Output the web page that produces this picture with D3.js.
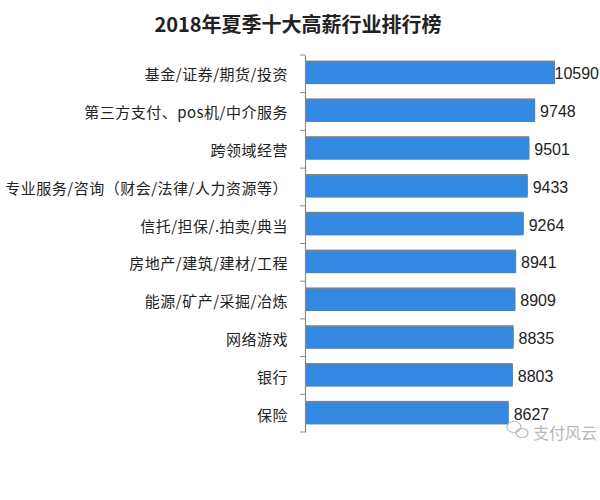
<!DOCTYPE html>
<html>
<head>
<meta charset="utf-8">
<script src="https://cdn.jsdelivr.net/npm/d3@7"></script>
<style>
  html, body { margin: 0; padding: 0; background: #fff; }
  svg { display: block; }
</style>
</head>
<body>
<svg id="chart" width="600" height="500"></svg>
<script>
const title = "2018年夏季十大高薪行业排行榜";
const categories = [
  "基金/证券/期货/投资",
  "第三方支付、pos机/中介服务",
  "跨领域经营",
  "专业服务/咨询（财会/法律/人力资源等）",
  "信托/担保/.拍卖/典当",
  "房地产/建筑/建材/工程",
  "能源/矿产/采掘/冶炼",
  "网络游戏",
  "银行",
  "保险"
];
const salaries = [10590, 9748, 9501, 9433, 9264, 8941, 8909, 8835, 8803, 8627];
const watermark = "支付风云";

const svg = d3.select("#chart");
const cjk = "'Noto Sans CJK SC', 'Noto Sans', sans-serif";

const x = d3.scaleLinear().domain([0, d3.max(salaries)]).range([305, 555]);
const y = d3.scaleBand().domain(categories).range([55, 432]).paddingInner(0.43).paddingOuter(0.2);

// title
svg.append("text")
  .attr("x", 298).attr("y", 32)
  .attr("text-anchor", "middle")
  .attr("font-family", "'Noto Sans CJK SC', sans-serif")
  .attr("font-weight", 700)
  .attr("font-size", 20)
  .attr("fill", "#222")
  .text(title);

// bars with a grey top edge
const g = svg.append("g");
g.selectAll("rect.shadow").data(categories).enter().append("rect")
  .attr("class", "shadow")
  .attr("x", x(0))
  .attr("y", d => y(d) - 2)
  .attr("width", (d, i) => x(salaries[i]) - x(0))
  .attr("height", y.bandwidth())
  .attr("fill", "#7d7f85");
g.selectAll("rect.bar").data(categories).enter().append("rect")
  .attr("class", "bar")
  .attr("x", x(0))
  .attr("y", d => y(d))
  .attr("width", (d, i) => x(salaries[i]) - x(0))
  .attr("height", y.bandwidth())
  .attr("fill", "#3388e2");

// value labels (kept inside the 600px canvas)
g.selectAll("text.val").data(categories).enter().append("text")
  .attr("class", "val")
  .attr("y", d => y(d) + y.bandwidth() / 2 + 6)
  .attr("font-family", "'Liberation Sans', Arial, sans-serif")
  .attr("font-size", 16)
  .attr("fill", "#222")
  .text((d, i) => salaries[i])
  .attr("x", function(d, i) {
    const w = this.getComputedTextLength();
    return Math.min(x(salaries[i]) + 5, 599 - w);
  });

// y axis (line + ticks at category boundaries)
const yAxis = d3.axisLeft(y).tickSize(0).tickFormat("");
const ax = svg.append("g").attr("transform", `translate(${x(0)},0)`).call(yAxis);
ax.select(".domain").attr("stroke", "#8a8a8a").attr("stroke-width", 1.2);
const r = y.range();
const edges = [r[0]].concat(categories.map((d, i) => r[0] + (i + 1) * (r[1] - r[0]) / categories.length));
ax.selectAll("line.tk").data(edges).enter().append("line")
  .attr("class", "tk")
  .attr("x1", -5).attr("x2", 0)
  .attr("y1", d => d).attr("y2", d => d)
  .attr("stroke", "#8a8a8a");

// category labels
svg.append("g").selectAll("text").data(categories).enter().append("text")
  .attr("x", 288)
  .attr("y", d => y(d) + y.bandwidth() / 2 + 7)
  .attr("text-anchor", "end")
  .attr("font-family", cjk)
  .attr("font-size", 15)
  .attr("letter-spacing", 0.5)
  .attr("fill", "#222")
  .text(d => d);

// watermark (WeChat style)
const wm = svg.append("g").attr("fill", "none").attr("stroke", "#b8b8b8").attr("stroke-width", 1.2);
wm.append("ellipse").attr("cx", 514).attr("cy", 427).attr("rx", 7).attr("ry", 5.5);
wm.append("ellipse").attr("cx", 522).attr("cy", 433).attr("rx", 6).attr("ry", 4.5);
svg.append("text")
  .attr("x", 533).attr("y", 439)
  .attr("font-family", cjk)
  .attr("font-size", 16)
  .attr("fill", "#b8b8b8")
  .text(watermark);
</script>
</body>
</html>
